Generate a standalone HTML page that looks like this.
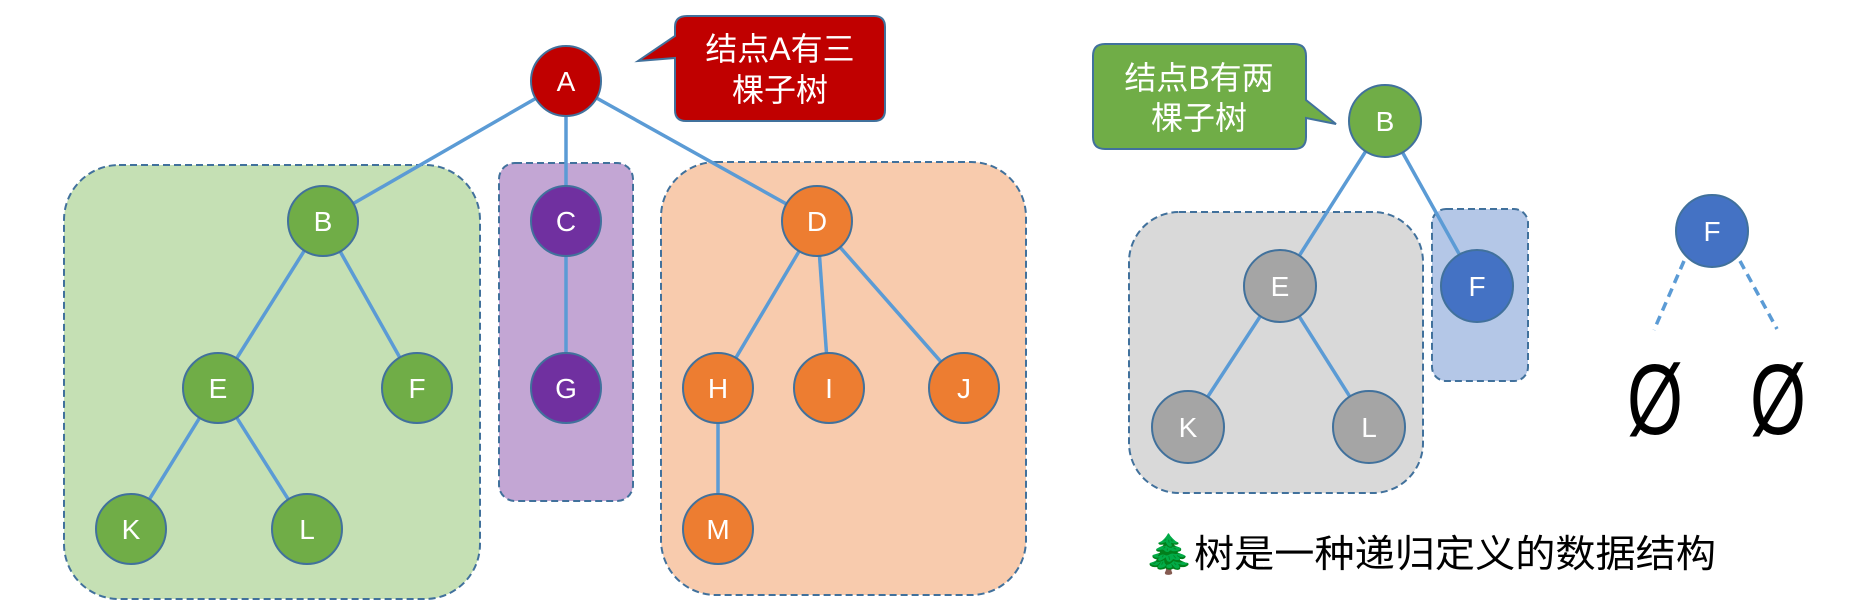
<!DOCTYPE html>
<html><head><meta charset="utf-8"><style>
html,body{margin:0;padding:0;background:#fff;}
svg{display:block}
text{font-family:"Liberation Sans","Noto Sans CJK SC",sans-serif;}
</style></head><body>
<svg width="1867" height="606" viewBox="0 0 1867 606" xmlns="http://www.w3.org/2000/svg">
<g stroke="#41719c" stroke-width="2" stroke-dasharray="7,4">
<rect x="64" y="165" width="416" height="434" rx="55" fill="#c5e0b4"/>
<rect x="499" y="163" width="134" height="338" rx="16" fill="#c3a6d4"/>
<rect x="661" y="162" width="365" height="433" rx="55" fill="#f8cbad"/>
<rect x="1129" y="212" width="294" height="281" rx="50" fill="#d9d9d9"/>
<rect x="1432" y="209" width="96" height="172" rx="14" fill="#b4c7e7"/>
</g>
<g stroke="#5b9bd5" stroke-width="3.5">
<line x1="566" y1="81" x2="323" y2="221"/><line x1="566" y1="81" x2="566" y2="221"/><line x1="566" y1="81" x2="817" y2="221"/>
<line x1="323" y1="221" x2="218" y2="388"/><line x1="323" y1="221" x2="417" y2="388"/>
<line x1="218" y1="388" x2="131" y2="529"/><line x1="218" y1="388" x2="307" y2="529"/>
<line x1="566" y1="221" x2="566" y2="388"/>
<line x1="817" y1="221" x2="718" y2="388"/><line x1="817" y1="221" x2="829" y2="388"/><line x1="817" y1="221" x2="964" y2="388"/>
<line x1="718" y1="388" x2="718" y2="529"/>
<line x1="1385" y1="121" x2="1280" y2="286"/><line x1="1385" y1="121" x2="1477" y2="286"/>
<line x1="1280" y1="286" x2="1188" y2="427"/><line x1="1280" y1="286" x2="1369" y2="427"/>
<line x1="1684" y1="261" x2="1654" y2="330" stroke-dasharray="9,6"/>
<line x1="1740" y1="261" x2="1777" y2="329" stroke-dasharray="9,6"/>
</g>
<g stroke="#41719c" stroke-width="2">
<g fill="#c00000"><circle cx="566" cy="81" r="35"/></g>
<g fill="#70ad47"><circle cx="323" cy="221" r="35"/><circle cx="218" cy="388" r="35"/><circle cx="417" cy="388" r="35"/><circle cx="131" cy="529" r="35"/><circle cx="307" cy="529" r="35"/><circle cx="1385" cy="121" r="36"/></g>
<g fill="#7030a0"><circle cx="566" cy="221" r="35"/><circle cx="566" cy="388" r="35"/></g>
<g fill="#ed7d31"><circle cx="817" cy="221" r="35"/><circle cx="718" cy="388" r="35"/><circle cx="829" cy="388" r="35"/><circle cx="964" cy="388" r="35"/><circle cx="718" cy="529" r="35"/></g>
<g fill="#a5a5a5"><circle cx="1280" cy="286" r="36"/><circle cx="1188" cy="427" r="36"/><circle cx="1369" cy="427" r="36"/></g>
<g fill="#4472c4"><circle cx="1477" cy="286" r="36"/><circle cx="1712" cy="231" r="36"/></g>
</g>
<g fill="#fff" font-size="28" text-anchor="middle">
<text x="566" y="91">A</text><text x="323" y="231">B</text><text x="566" y="231">C</text><text x="817" y="231">D</text>
<text x="218" y="398">E</text><text x="417" y="398">F</text><text x="566" y="398">G</text><text x="718" y="398">H</text><text x="829" y="398">I</text><text x="964" y="398">J</text>
<text x="131" y="539">K</text><text x="307" y="539">L</text><text x="718" y="539">M</text>
<text x="1385" y="131">B</text><text x="1280" y="296">E</text><text x="1477" y="296">F</text><text x="1188" y="437">K</text><text x="1369" y="437">L</text><text x="1712" y="241">F</text>
</g>
<path d="M687,16 H874 Q885,16 885,27 V110 Q885,121 874,121 H686 Q675,121 675,110 V58 L638,61 L675,36 V27 Q675,16 687,16 Z" fill="#c00000" stroke="#41719c" stroke-width="2"/>
<path d="M1105,44 H1294 Q1306,44 1306,56 V100 L1336,124 L1306,118 V137 Q1306,149 1294,149 H1105 Q1093,149 1093,137 V56 Q1093,44 1105,44 Z" fill="#70ad47" stroke="#41719c" stroke-width="2"/>
<g fill="#fff" font-size="32" text-anchor="middle">
<text x="780" y="60">结点A有三</text><text x="780" y="101">棵子树</text>
<text x="1199" y="89">结点B有两</text><text x="1199" y="129">棵子树</text>
</g>
<g font-size="100" fill="#000" text-anchor="middle">
<text transform="translate(1655,434) scale(0.72,1)">Ø</text><text transform="translate(1778,434) scale(0.72,1)">Ø</text>
</g>
<text x="1144" y="567" font-size="38" fill="#000" textLength="572" lengthAdjust="spacingAndGlyphs">🌲树是一种递归定义的数据结构</text>
</svg>
</body></html>
